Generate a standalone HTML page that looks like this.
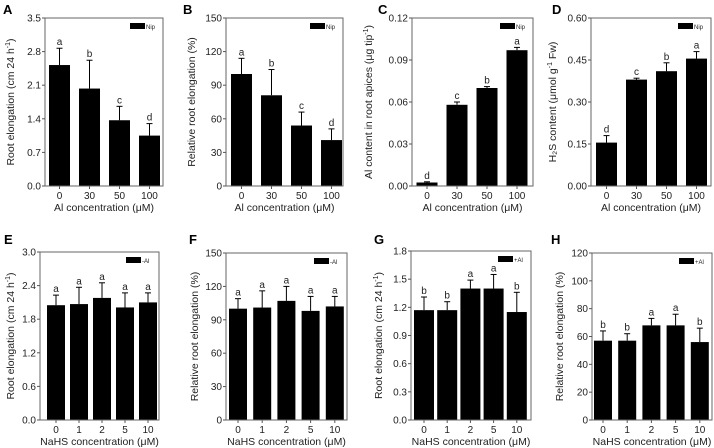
<!DOCTYPE html>
<html><head><meta charset="utf-8"><style>
html,body{margin:0;padding:0;background:#fff}
svg{display:block;font-family:"Liberation Sans",Arial,sans-serif}
</style></head><body>
<svg id="fig" width="714" height="448" viewBox="0 0 714 448" xmlns="http://www.w3.org/2000/svg"></svg>
<script>
const catsAl = ["0","30","50","100"];
const catsNaHS = ["0","1","2","5","10"];
const valA = [2.52, 2.03, 1.37, 1.05];
const errA = [2.87, 2.62, 1.66, 1.30];
const letA = ["a","b","c","d"];
const tickA = ["0.0","0.7","1.4","2.1","2.8","3.5"];
const valB = [100, 81, 54, 41];
const errB = [114, 104, 66, 51];
const letB = ["a","b","c","d"];
const tickB = ["0","30","60","90","120","150"];
const valC = [0.0025, 0.058, 0.070, 0.097];
const errC = [0.003, 0.060, 0.071, 0.099];
const letC = ["d","c","b","a"];
const tickC = ["0.00","0.03","0.06","0.09","0.12"];
const valD = [0.155, 0.38, 0.41, 0.455];
const errD = [0.18, 0.385, 0.44, 0.48];
const letD = ["d","c","b","a"];
const tickD = ["0.00","0.15","0.30","0.45","0.60"];
const valE = [2.05, 2.07, 2.18, 2.01, 2.10];
const errE = [2.23, 2.37, 2.45, 2.27, 2.27];
const letE = ["a","a","a","a","a"];
const tickE = ["0.0","0.6","1.2","1.8","2.4","3.0"];
const valF = [100, 101, 107, 98, 102];
const errF = [109, 116, 120, 111, 111];
const letF = ["a","a","a","a","a"];
const tickF = ["0","30","60","90","120","150"];
const valG = [1.17, 1.17, 1.40, 1.40, 1.15];
const errG = [1.31, 1.26, 1.49, 1.55, 1.36];
const letG = ["b","b","a","a","b"];
const tickG = ["0.0","0.3","0.6","0.9","1.2","1.5","1.8"];
const valH = [57, 57, 68, 68, 56];
const errH = [64, 62, 73, 76, 66];
const letH = ["b","b","a","a","b"];
const tickH = ["0","20","40","60","80","100","120"];

const NS="http://www.w3.org/2000/svg";
const svg=document.getElementById('fig');
function mk(tag,attrs,parent){const e=document.createElementNS(NS,tag);for(const k in attrs)e.setAttribute(k,attrs[k]);(parent||svg).appendChild(e);return e;}

const panels=[
 {id:"a",L:"A",lx:3,ly:14,x0:45,x1:163,y0:18,y1:186,c0:59.5,step:30,bw:21,cats:catsAl,v:valA,e:errA,let:letA,t:tickA,leg:"Nip",ytx:10,yt:["Root elongation (cm 24 h","-1",")"],xt:"Al concentration (μM)"},
 {id:"b",L:"B",lx:183,ly:14,x0:226,x1:343,y0:18,y1:186,c0:241.5,step:30,bw:21,cats:catsAl,v:valB,e:errB,let:letB,t:tickB,leg:"Nip",ytx:191,yt:["Relative root elongation (%)"],xt:"Al concentration (μM)"},
 {id:"c",L:"C",lx:378,ly:14,x0:412,x1:533,y0:18,y1:186,c0:427,step:30,bw:21,cats:catsAl,v:valC,e:errC,let:letC,t:tickC,leg:"Nip",ytx:368,yt:["Al content in root apices (μg tip","-1",")"],xt:"Al concentration (μM)"},
 {id:"d",L:"D",lx:552,ly:14,x0:591,x1:711,y0:18,y1:186,c0:606.5,step:30,bw:21,cats:catsAl,v:valD,e:errD,let:letD,t:tickD,leg:"Nip",ytx:552,yt:["H\u2082S content  (μmol g","-1"," Fw)"],xt:"Al concentration (μM)"},
 {id:"e",L:"E",lx:4,ly:244,x0:40,x1:159,y0:252,y1:420,c0:56,step:23,bw:18,cats:catsNaHS,v:valE,e:errE,let:letE,t:tickE,leg:"-Al",ytx:10,yt:["Root elongation (cm 24 h","-1",")"],xt:"NaHS concentration (μM)"},
 {id:"f",L:"F",lx:189,ly:244,x0:226,x1:347,y0:253,y1:420,c0:238,step:24.2,bw:18,cats:catsNaHS,v:valF,e:errF,let:letF,t:tickF,leg:"-Al",ytx:194,yt:["Relative root elongation (%)"],xt:"NaHS concentration (μM)"},
 {id:"g",L:"G",lx:374,ly:244,x0:411,x1:531,y0:251,y1:420,c0:424,step:23.2,bw:20,cats:catsNaHS,v:valG,e:errG,let:letG,t:tickG,leg:"+Al",ytx:378,yt:["Root elongation (cm 24 h","-1",")"],xt:"NaHS concentration (μM)"},
 {id:"h",L:"H",lx:551,ly:244,x0:592,x1:712,y0:253,y1:420,c0:603,step:24.2,bw:18,cats:catsNaHS,v:valH,e:errH,let:letH,t:tickH,leg:"+Al",ytx:559,yt:["Relative root elongation (%)"],xt:"NaHS concentration (μM)"}
];

panels.forEach(p=>{
  const g=mk('g',{});
  
  
  const ymax=parseFloat(p.t[p.t.length-1]);
  const ys=v=>p.y1-(v/ymax)*(p.y1-p.y0);
  const xc=i=>p.c0+i*p.step;
  const lt=mk('text',{x:p.lx,y:p.ly,'font-size':13,'font-weight':'bold',fill:'#000'},g);
  lt.textContent=p.L;
  
  
  p.v.forEach((v,i)=>{
    const ey=ys(p.e[i]);
    const el=mk('line',{x1:xc(i),x2:xc(i),y1:ey,y2:ys(v),stroke:'#000','stroke-width':1},g);
    
    
    mk('line',{x1:xc(i)-3,x2:xc(i)+3,y1:ey,y2:ey,stroke:'#000','stroke-width':1},g);
    const r=mk('rect',{x:xc(i)-p.bw/2,y:ys(v),width:p.bw,height:p.y1-ys(v),fill:'#000'},g);
    
    
    const s=mk('text',{x:xc(i),y:ey-3,'font-size':10,'text-anchor':'middle',fill:'#222'},g);
    s.textContent=p.let[i];
    
    
    mk('line',{x1:xc(i),x2:xc(i),y1:p.y1,y2:p.y1+3,stroke:'#555'},g);
    const xl=mk('text',{x:xc(i),y:p.y1+13,'font-size':10,'text-anchor':'middle',fill:'#222'},g);
    xl.textContent=p.cats[i];
    
    
  });
  const fr=mk('rect',{x:p.x0,y:p.y0,width:p.x1-p.x0,height:p.y1-p.y0,fill:'none',stroke:'#666','stroke-width':1},g);
  
  
  p.t.forEach(t=>{
    const y=ys(parseFloat(t));
    mk('line',{x1:p.x0-3,x2:p.x0,y1:y,y2:y,stroke:'#555'},g);
    const yl=mk('text',{x:p.x0-4,y:y+3.5,'font-size':10,'text-anchor':'end',fill:'#222'},g);
    yl.textContent=t;
    
    
  });
  const lg=mk('g',{},g);
  
  
  mk('rect',{x:p.x1-33,y:p.y0+5,width:15,height:6,fill:'#000'},lg);
  const ltx=mk('text',{x:p.x1-17,y:p.y0+11,'font-size':6,fill:'#222'},lg);
  ltx.textContent=p.leg;
  const xt=mk('text',{x:(p.x0+p.x1)/2,y:p.y1+25,'font-size':10.5,'text-anchor':'middle',fill:'#222'},g);
  xt.textContent=p.xt;
  
  
  const cy=(p.y0+p.y1)/2;
  const yt=mk('text',{x:0,y:0,'font-size':10.5,'text-anchor':'middle',fill:'#222',transform:`translate(${p.ytx+4},${cy}) rotate(-90)`},g);
  
  
  p.yt.forEach((s,k)=>{
    const ts=mk('tspan',{},yt);
    if(k===1){ts.setAttribute('font-size',7);ts.setAttribute('dy',-4);}
    if(k===2){ts.setAttribute('dy',4);}
    ts.textContent=s;
  });
});
</script>
</body></html>
